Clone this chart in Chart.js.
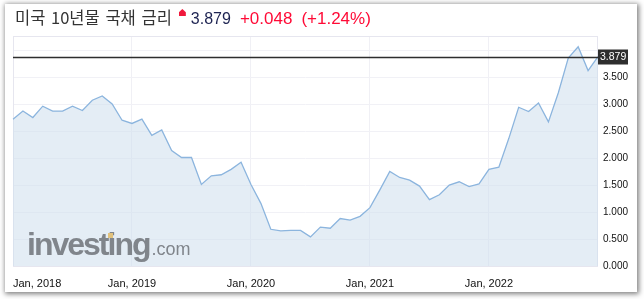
<!DOCTYPE html>
<html>
<head>
<meta charset="utf-8">
<script src="https://cdn.jsdelivr.net/npm/chart.js@4.4.1/dist/chart.umd.min.js"></script>
<style>
    html, body { margin: 0; padding: 0; background: #fff; width: 644px; height: 299px; overflow: hidden; }
    .card { position: absolute; left: 5px; top: 4px; width: 632px; height: 288px; background: #fff; box-shadow: 1px 1px 5px 1px rgba(0,0,0,0.5); }
    #chart { position: absolute; left: 0; top: 0; }
    .title { position: absolute; left: 15px; top: 5px; white-space: nowrap; display: flex; align-items: baseline; }
    .title .name { font-family: "Noto Sans CJK KR", sans-serif; font-size: 16.5px; color: #333; word-spacing: 2px; }
    .title .arrow { display: inline-block; width: 7px; height: 7px; background: #f0193c; margin: 0 5px 0 7px; position: relative; top: -8px;
        clip-path: polygon(50% 0, 100% 45%, 100% 100%, 0 100%, 0 45%); }
    .title .price { font-family: "Liberation Sans", Arial, sans-serif; font-size: 16px; color: #1e2452; }
    .title .chg { font-family: "Liberation Sans", Arial, sans-serif; font-size: 17px; color: #ff0a36; margin-left: 9px; }
    .logo { position: absolute; left: 27px; top: 226px; font-family: "Liberation Sans", Arial, sans-serif; color: #80858b; white-space: nowrap; pointer-events: none; }
    .logo b { font-size: 32px; letter-spacing: -2px; }
    .logo span { font-size: 18px; margin-left: 2px; }
    .logo i { position: absolute; left: 81px; top: 7px; width: 5px; height: 5px; background: #e2c27c; }
</style>
</head>
<body>
<div class="card"></div>
<canvas id="chart" width="644" height="299"></canvas>
<div class="title">
    <span class="name">미국 10년물 국채 금리</span>
    <span class="arrow"></span>
    <span class="price">3.879</span>
    <span class="chg">+0.048</span>
    <span class="chg">(+1.24%)</span>
</div>
<div class="logo"><b>investing</b><span>.com</span><i></i></div>
<script>
// Monthly closes, Jan 2018 - Dec 2022
const years = [2018, 2019, 2020, 2021, 2022];
const monthNames = ['Jan', 'Feb', 'Mar', 'Apr', 'May', 'Jun', 'Jul', 'Aug', 'Sep', 'Oct', 'Nov', 'Dec'];
const yield2018 = [2.72, 2.87, 2.75, 2.96, 2.87, 2.87, 2.96, 2.88, 3.07, 3.15, 3.00, 2.70];
const yield2019 = [2.64, 2.72, 2.42, 2.52, 2.14, 2.01, 2.01, 1.51, 1.67, 1.69, 1.79, 1.92];
const yield2020 = [1.51, 1.16, 0.68, 0.65, 0.66, 0.66, 0.54, 0.72, 0.70, 0.88, 0.85, 0.92];
const yield2021 = [1.08, 1.41, 1.75, 1.64, 1.59, 1.48, 1.23, 1.32, 1.50, 1.56, 1.47, 1.52];
const yield2022 = [1.79, 1.83, 2.36, 2.94, 2.86, 3.02, 2.67, 3.21, 3.85, 4.06, 3.62, 3.879];
const yTicks = [0, 0.5, 1.0, 1.5, 2.0, 2.5, 3.0, 3.5, 4.0];
const yMax = 4.26;
const lastValue = 3.879;

const labels = years.flatMap(y => monthNames.map(m => m + ', ' + y));
const values = [].concat(yield2018, yield2019, yield2020, yield2021, yield2022);

// Frame around the plot area
const framePlugin = {
    id: 'frame',
    beforeDatasetsDraw(chart) {
        const a = chart.chartArea;
        const ctx = chart.ctx;
        ctx.save();
        ctx.strokeStyle = '#e6e6ef';
        ctx.lineWidth = 1;
        ctx.strokeRect(a.left + 0.5, a.top + 0.5, a.right - a.left - 1, a.bottom - a.top);
        ctx.restore();
    }
};

// Current value line + label box
const lastValuePlugin = {
    id: 'lastValue',
    afterDraw(chart) {
        const a = chart.chartArea;
        const y = Math.round(chart.scales.y.getPixelForValue(lastValue)) + 0.5;
        const ctx = chart.ctx;
        ctx.save();
        ctx.strokeStyle = '#2e2e2e';
        ctx.lineWidth = 1.5;
        ctx.beginPath();
        ctx.moveTo(a.left, y);
        ctx.lineTo(a.right, y);
        ctx.stroke();
        ctx.fillStyle = '#2e2e2e';
        ctx.fillRect(a.right, y - 8, 30, 15);
        ctx.fillStyle = '#fff';
        ctx.font = '10.5px "Liberation Sans", Arial, sans-serif';
        ctx.textBaseline = 'middle';
        ctx.fillText(lastValue.toFixed(3), a.right + 2, y);
        ctx.restore();
    }
};

new Chart(document.getElementById('chart'), {
    type: 'line',
    data: {
        labels: labels,
        datasets: [{
            data: values,
            borderColor: '#8cb5de',
            borderWidth: 1.3,
            backgroundColor: 'rgba(205,222,236,0.55)',
            fill: 'origin',
            tension: 0,
            pointRadius: 0
        }]
    },
    options: {
        responsive: false,
        animation: false,
        layout: { padding: { left: 13, top: 36, right: 0, bottom: 0 } },
        plugins: {
            legend: { display: false },
            tooltip: { enabled: false }
        },
        scales: {
            x: {
                offset: false,
                afterFit(scale) { scale.height = 33; },
                grid: {
                    drawTicks: false,
                    color: ctx => (ctx.index % 12 === 0 && ctx.index > 0) ? '#f0f0f5' : 'transparent'
                },
                border: { display: false },
                ticks: {
                    autoSkip: false,
                    maxRotation: 0,
                    align: 'inner',
                    padding: 11,
                    color: '#111',
                    font: { family: '"Liberation Sans", Arial, sans-serif', size: 11 },
                    callback: function(val, idx) {
                        return idx % 12 === 0 ? 'Jan, ' + years[idx / 12] : '';
                    }
                }
            },
            y: {
                position: 'right',
                min: 0,
                max: yMax,
                afterFit(scale) { scale.width = 46; },
                afterBuildTicks(scale) { scale.ticks = yTicks.map(v => ({ value: v })); },
                grid: { drawTicks: false, color: '#f1f1f6' },
                border: { display: false },
                ticks: {
                    padding: 5,
                    color: '#111',
                    font: { family: '"Liberation Sans", Arial, sans-serif', size: 10 },
                    callback: v => v >= 4 ? '' : Number(v).toFixed(3)
                }
            }
        }
    },
    plugins: [framePlugin, lastValuePlugin]
});
</script>
</body>
</html>
